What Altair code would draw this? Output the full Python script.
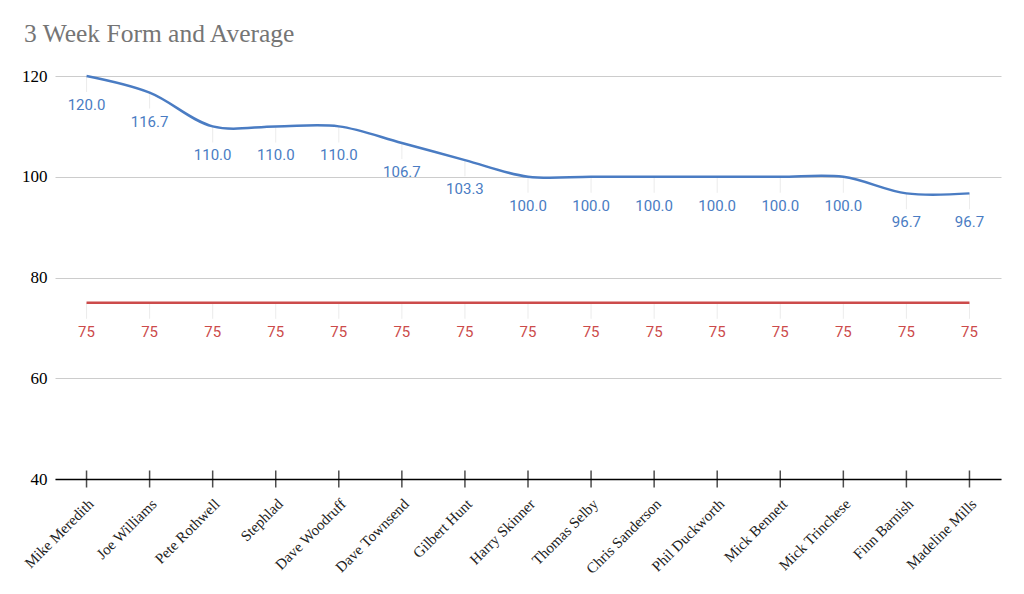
import altair as alt
import pandas as pd

names = ["Mike Meredith", "Joe Williams", "Pete Rothwell", "Stephlad", "Dave Woodruff",
         "Dave Townsend", "Gilbert Hunt", "Harry Skinner", "Thomas Selby", "Chris Sanderson",
         "Phil Duckworth", "Mick Bennett", "Mick Trinchese", "Finn Barnish", "Madeline Mills"]
form = [120.0, 116.7, 110.0, 110.0, 110.0, 106.7, 103.3, 100.0, 100.0, 100.0,
        100.0, 100.0, 100.0, 96.7, 96.7]
average = [75] * 15
y_ticks = [40, 60, 80, 100, 120]

BLUE = "#4a7cc3"
RED = "#cc4b4b"

df = pd.DataFrame({"name": names, "form": form, "avg": average, "base": [40] * 15})

xenc = alt.X("name:N", sort=names, title=None,
             scale=alt.Scale(type="point", padding=0.5),
             axis=alt.Axis(labelAngle=-45, labelAlign="right", labelBaseline="middle",
                           labelFont="Liberation Serif", labelFontSize=15, labelColor="#222",
                           labelPadding=22, labelOffset=4, ticks=False, domainColor="#000",
                           domainWidth=1.5, grid=False))
yscale = alt.Scale(domain=[40, 120], nice=False, zero=False)

base = alt.Chart(df).encode(x=xenc)

leader_form = base.mark_tick(orient="vertical", color="#e3e3e3", thickness=1, size=16, yOffset=8).encode(
    y=alt.Y("form:Q", scale=yscale, title=None,
            axis=alt.Axis(values=y_ticks, labelFont="Liberation Serif", labelFontSize=17,
                          labelColor="#000", labelPadding=8, ticks=False, domain=False,
                          gridColor="#cccccc", gridWidth=1)))
leader_avg = base.mark_tick(orient="vertical", color="#e3e3e3", thickness=1, size=16, yOffset=8).encode(
    y=alt.Y("avg:Q", scale=yscale))

line_form = base.mark_line(color=BLUE, strokeWidth=2.5, interpolate="catmull-rom").encode(
    y=alt.Y("form:Q", scale=yscale))
line_avg = base.mark_line(color=RED, strokeWidth=2.5).encode(
    y=alt.Y("avg:Q", scale=yscale))

text_form = base.mark_text(color=BLUE, font="Roboto", fontSize=15, dy=29, baseline="middle").encode(
    y=alt.Y("form:Q", scale=yscale), text=alt.Text("form:Q", format=".1f"))
text_avg = base.mark_text(color=RED, font="Roboto", fontSize=15, dy=29, baseline="middle").encode(
    y=alt.Y("avg:Q", scale=yscale), text=alt.Text("avg:Q", format="d"))

xticks = base.mark_tick(orient="vertical", color="#000", thickness=1.5, size=17).encode(
    y=alt.Y("base:Q", scale=yscale))

chart = alt.layer(leader_form, leader_avg, line_form, line_avg, text_form, text_avg, xticks).properties(
    width=946, height=403,
    title=alt.TitleParams("3 Week Form and Average", font="Liberation Serif", fontSize=25.5,
                          fontWeight="normal", color="#757575", anchor="start", dx=-31,
                          frame="group", baseline="alphabetic", offset=0),
    autosize=alt.AutoSizeParams(type="none"),
    padding={"left": 47, "top": 68, "right": 15, "bottom": 100},
).configure_view(stroke=None)

chart.save("out.html", embed_options={"renderer": "svg", "actions": False})
